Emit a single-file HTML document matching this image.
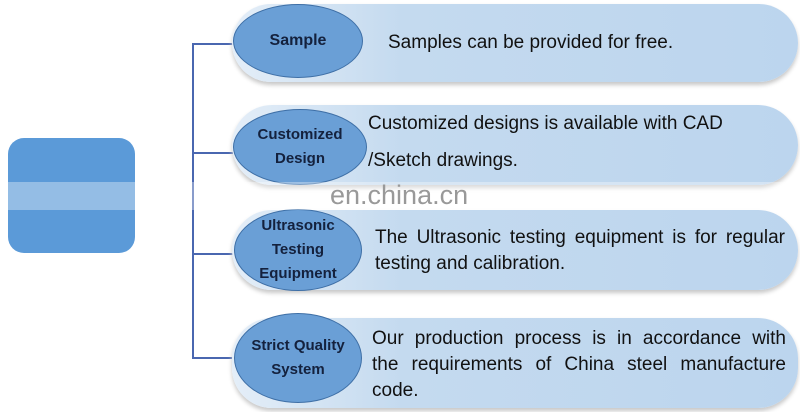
<!DOCTYPE html><html><head><style>
body{margin:0;width:800px;height:412px;background:#fff;position:relative;overflow:hidden;font-family:"Liberation Sans",sans-serif}
.bar{position:absolute;left:232px;width:566px;border-radius:40px;background:linear-gradient(90deg,#e4eef8,#c4daef 30%,#bcd5ee);box-shadow:0 3px 4px #c8c8c8}
.el{position:absolute;border-radius:50%;background:#6a9fd6;border:1.5px solid #3e6fa6;box-sizing:border-box;display:flex;align-items:center;justify-content:center;text-align:center;font-weight:bold;color:#14213d;font-size:15px;line-height:24px}
.t{position:absolute;font-size:19px;color:#111;line-height:27px}
.ln{position:absolute;background:#4a67b0}
</style></head><body>
<div style="position:absolute;left:8px;top:138px;width:127px;height:115px;border-radius:16px;background:#5b9ad8"></div>
<div class="ln" style="left:192px;top:43px;width:2px;height:315px"></div>
<div class="ln" style="left:192px;top:43px;width:45px;height:2px"></div>
<div class="ln" style="left:192px;top:152px;width:45px;height:2px"></div>
<div class="ln" style="left:192px;top:253px;width:45px;height:2px"></div>
<div class="ln" style="left:192px;top:357px;width:45px;height:2px"></div>
<div class="bar" style="top:4px;height:78px"></div>
<div class="bar" style="top:105px;height:80px"></div>
<div class="bar" style="top:210px;height:80px"></div>
<div class="bar" style="top:318px;height:90px"></div>
<div class="el" style="left:233px;top:4px;width:130px;height:74px;font-size:16px">Sample</div>
<div class="el" style="left:233px;top:109px;width:134px;height:76px">Customized<br>Design</div>
<div class="el" style="left:234px;top:209px;width:128px;height:82px">Ultrasonic<br>Testing<br>Equipment</div>
<div class="el" style="left:234px;top:313px;width:128px;height:90px">Strict Quality<br>System</div>
<div class="t" style="left:388px;top:29px">Samples can be provided for free.</div>
<div class="t" style="left:368px;top:110px">Customized designs is available with CAD</div>
<div class="t" style="left:368px;top:147px">/Sketch drawings.</div>
<div class="t" style="left:375px;top:224px;width:410px;text-align:justify;text-align-last:justify">The Ultrasonic testing equipment is for regular</div>
<div class="t" style="left:375px;top:250px">testing and calibration.</div>
<div class="t" style="left:372px;top:325px;width:414px;text-align:justify;text-align-last:justify">Our production process is in accordance with</div>
<div class="t" style="left:372px;top:351px;width:414px;text-align:justify;text-align-last:justify">the requirements of China steel manufacture</div>
<div class="t" style="left:372px;top:377px">code.</div>
<div style="position:absolute;left:0;top:182px;width:800px;height:28px;background:rgba(255,255,255,0.35)"></div>
<div style="position:absolute;left:330px;top:180px;font-size:27px;color:#999">en.china.cn</div>
</body></html>
